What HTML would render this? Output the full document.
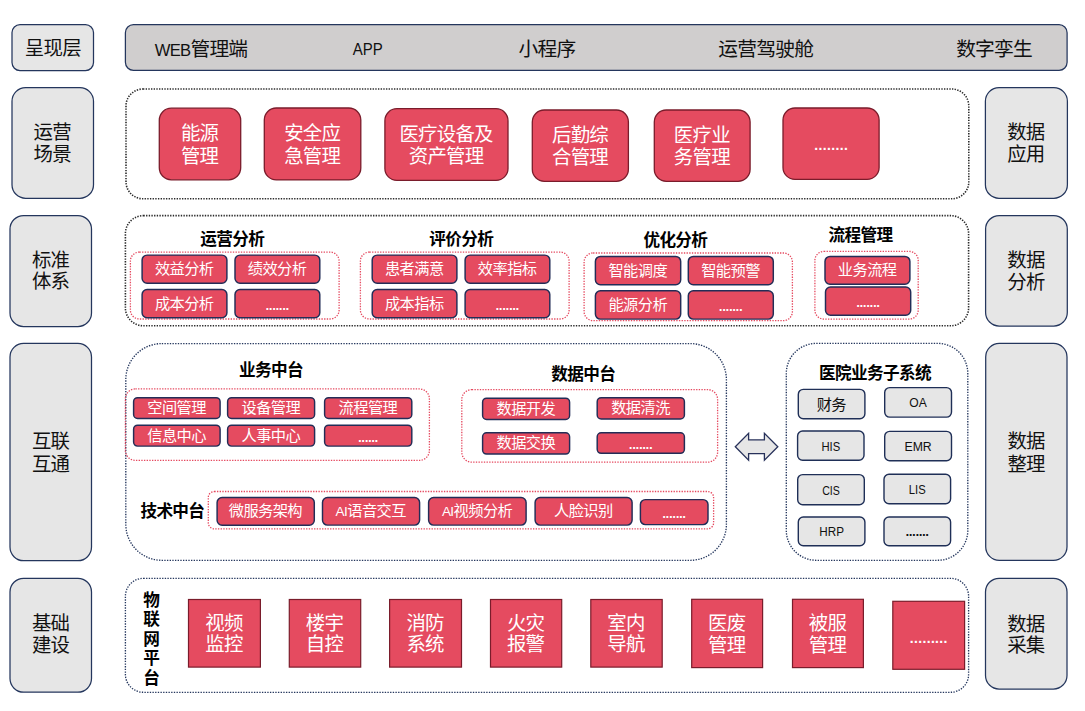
<!DOCTYPE html>
<html lang="zh-CN"><head><meta charset="utf-8"><title>架构图</title>
<style>
html,body{margin:0;padding:0;background:#fff;}
body{width:1085px;height:711px;overflow:hidden;}
svg{display:block;font-family:"Liberation Sans", "Noto Sans CJK SC", sans-serif;}
text{white-space:pre;}
</style></head><body>
<svg width="1085" height="711" viewBox="0 0 1085 711" style='font-family:"Liberation Sans", "Noto Sans CJK SC", sans-serif'>
<rect width="1085" height="711" fill="#fff"/>
<rect x="12.00" y="24.60" width="81.50" height="46.00" rx="8" ry="8" fill="#e6e6e6" stroke="#24365d" stroke-width="1.25"/>
<text x="52.83" y="54.98" font-size="19.42" fill="#111" font-weight="400" text-anchor="middle" letter-spacing="-0.75">呈现层</text>
<rect x="12.00" y="87.60" width="81.50" height="110.70" rx="13.6" ry="13.6" fill="#e6e6e6" stroke="#24365d" stroke-width="1.25"/>
<text x="52.23" y="138.88" font-size="19.42" fill="#111" font-weight="400" text-anchor="middle" letter-spacing="-0.75">运营</text>
<text x="52.23" y="161.38" font-size="19.42" fill="#111" font-weight="400" text-anchor="middle" letter-spacing="-0.75">场景</text>
<rect x="10.00" y="215.50" width="81.50" height="111.00" rx="13.6" ry="13.6" fill="#e6e6e6" stroke="#24365d" stroke-width="1.25"/>
<text x="50.62" y="266.78" font-size="19.42" fill="#111" font-weight="400" text-anchor="middle" letter-spacing="-0.75">标准</text>
<text x="50.62" y="288.38" font-size="19.42" fill="#111" font-weight="400" text-anchor="middle" letter-spacing="-0.75">体系</text>
<rect x="10.00" y="343.40" width="81.50" height="217.30" rx="13.6" ry="13.6" fill="#e6e6e6" stroke="#24365d" stroke-width="1.25"/>
<text x="50.62" y="447.88" font-size="19.42" fill="#111" font-weight="400" text-anchor="middle" letter-spacing="-0.75">互联</text>
<text x="50.62" y="470.58" font-size="19.42" fill="#111" font-weight="400" text-anchor="middle" letter-spacing="-0.75">互通</text>
<rect x="10.00" y="578.30" width="81.50" height="113.90" rx="13.6" ry="13.6" fill="#e6e6e6" stroke="#24365d" stroke-width="1.25"/>
<text x="50.62" y="629.98" font-size="19.42" fill="#111" font-weight="400" text-anchor="middle" letter-spacing="-0.75">基础</text>
<text x="50.62" y="652.38" font-size="19.42" fill="#111" font-weight="400" text-anchor="middle" letter-spacing="-0.75">建设</text>
<rect x="985.40" y="87.60" width="82.00" height="110.70" rx="13.6" ry="13.6" fill="#e6e6e6" stroke="#24365d" stroke-width="1.25"/>
<text x="1025.83" y="138.88" font-size="19.42" fill="#111" font-weight="400" text-anchor="middle" letter-spacing="-0.75">数据</text>
<text x="1025.83" y="161.38" font-size="19.42" fill="#111" font-weight="400" text-anchor="middle" letter-spacing="-0.75">应用</text>
<rect x="985.60" y="215.50" width="81.70" height="110.50" rx="13.6" ry="13.6" fill="#e6e6e6" stroke="#24365d" stroke-width="1.25"/>
<text x="1026.03" y="267.18" font-size="19.42" fill="#111" font-weight="400" text-anchor="middle" letter-spacing="-0.75">数据</text>
<text x="1026.03" y="289.18" font-size="19.42" fill="#111" font-weight="400" text-anchor="middle" letter-spacing="-0.75">分析</text>
<rect x="985.70" y="343.40" width="81.30" height="217.00" rx="13.6" ry="13.6" fill="#e6e6e6" stroke="#24365d" stroke-width="1.25"/>
<text x="1026.12" y="448.38" font-size="19.42" fill="#111" font-weight="400" text-anchor="middle" letter-spacing="-0.75">数据</text>
<text x="1026.12" y="470.58" font-size="19.42" fill="#111" font-weight="400" text-anchor="middle" letter-spacing="-0.75">整理</text>
<rect x="985.50" y="578.30" width="81.50" height="110.70" rx="13.6" ry="13.6" fill="#e6e6e6" stroke="#24365d" stroke-width="1.25"/>
<text x="1025.83" y="630.58" font-size="19.42" fill="#111" font-weight="400" text-anchor="middle" letter-spacing="-0.75">数据</text>
<text x="1025.83" y="651.98" font-size="19.42" fill="#111" font-weight="400" text-anchor="middle" letter-spacing="-0.75">采集</text>
<rect x="125.40" y="24.70" width="941.70" height="45.60" rx="8" ry="8" fill="#d0cece" stroke="#24365d" stroke-width="1.25"/>
<text x="201.12" y="56.11" font-size="19.76" fill="#111" font-weight="400" text-anchor="middle" letter-spacing="-0.76"><tspan font-size="16.6">WEB</tspan>管理端</text>
<text x="367.70" y="55.38" font-size="16.6" fill="#111" font-weight="400" text-anchor="middle" textLength="30.0" lengthAdjust="spacingAndGlyphs">APP</text>
<text x="547.02" y="56.11" font-size="19.76" fill="#111" font-weight="400" text-anchor="middle" letter-spacing="-0.76">小程序</text>
<text x="765.72" y="56.11" font-size="19.76" fill="#111" font-weight="400" text-anchor="middle" letter-spacing="-0.76">运营驾驶舱</text>
<text x="994.12" y="56.11" font-size="19.76" fill="#111" font-weight="400" text-anchor="middle" letter-spacing="-0.76">数字孪生</text>
<rect x="126.00" y="89.00" width="842.80" height="109.80" rx="17" ry="17" fill="none" stroke="#2a2a2a" stroke-width="1.6" stroke-dasharray="1.35 1.32"/>
<rect x="159.30" y="108.20" width="81.40" height="71.60" rx="12" ry="12" fill="#e54b60" stroke="#7a1c2b" stroke-width="1.3"/>
<text x="199.62" y="140.38" font-size="19.42" fill="#fff" font-weight="400" text-anchor="middle" letter-spacing="-0.75">能源</text>
<text x="199.62" y="162.58" font-size="19.42" fill="#fff" font-weight="400" text-anchor="middle" letter-spacing="-0.75">管理</text>
<rect x="264.30" y="108.00" width="96.50" height="71.90" rx="12" ry="12" fill="#e54b60" stroke="#7a1c2b" stroke-width="1.3"/>
<text x="312.18" y="140.33" font-size="19.42" fill="#fff" font-weight="400" text-anchor="middle" letter-spacing="-0.75">安全应</text>
<text x="312.18" y="162.53" font-size="19.42" fill="#fff" font-weight="400" text-anchor="middle" letter-spacing="-0.75">急管理</text>
<rect x="384.90" y="108.70" width="123.10" height="71.70" rx="12" ry="12" fill="#e54b60" stroke="#7a1c2b" stroke-width="1.3"/>
<text x="446.07" y="140.93" font-size="19.42" fill="#fff" font-weight="400" text-anchor="middle" letter-spacing="-0.75">医疗设备及</text>
<text x="446.07" y="163.13" font-size="19.42" fill="#fff" font-weight="400" text-anchor="middle" letter-spacing="-0.75">资产管理</text>
<rect x="532.30" y="110.00" width="96.10" height="71.30" rx="12" ry="12" fill="#e54b60" stroke="#7a1c2b" stroke-width="1.3"/>
<text x="579.97" y="142.03" font-size="19.42" fill="#fff" font-weight="400" text-anchor="middle" letter-spacing="-0.75">后勤综</text>
<text x="579.97" y="164.23" font-size="19.42" fill="#fff" font-weight="400" text-anchor="middle" letter-spacing="-0.75">合管理</text>
<rect x="654.30" y="110.00" width="95.80" height="71.30" rx="12" ry="12" fill="#e54b60" stroke="#7a1c2b" stroke-width="1.3"/>
<text x="701.83" y="142.03" font-size="19.42" fill="#fff" font-weight="400" text-anchor="middle" letter-spacing="-0.75">医疗业</text>
<text x="701.83" y="164.23" font-size="19.42" fill="#fff" font-weight="400" text-anchor="middle" letter-spacing="-0.75">务管理</text>
<rect x="783.00" y="108.00" width="96.10" height="71.40" rx="12" ry="12" fill="#e54b60" stroke="#7a1c2b" stroke-width="1.3"/>
<text x="831.05" y="149.98" font-size="21" fill="#fff" font-weight="400" text-anchor="middle" textLength="35.5" lengthAdjust="spacing">........</text>
<rect x="125.40" y="215.60" width="843.20" height="110.20" rx="18" ry="18" fill="none" stroke="#2a2a2a" stroke-width="1.6" stroke-dasharray="1.35 1.32"/>
<text x="232.18" y="245.12" font-size="16.64" fill="#000" font-weight="700" text-anchor="middle" letter-spacing="-0.64">运营分析</text>
<text x="461.28" y="245.12" font-size="16.64" fill="#000" font-weight="700" text-anchor="middle" letter-spacing="-0.64">评价分析</text>
<text x="675.38" y="245.62" font-size="16.64" fill="#000" font-weight="700" text-anchor="middle" letter-spacing="-0.64">优化分析</text>
<text x="860.58" y="241.42" font-size="16.64" fill="#000" font-weight="700" text-anchor="middle" letter-spacing="-0.64">流程管理</text>
<rect x="130.40" y="252.10" width="208.70" height="66.90" rx="9" ry="9" fill="none" stroke="#e5495f" stroke-width="1.3" stroke-dasharray="1.35 1.32"/>
<rect x="360.40" y="252.10" width="208.70" height="66.90" rx="9" ry="9" fill="none" stroke="#e5495f" stroke-width="1.3" stroke-dasharray="1.35 1.32"/>
<rect x="584.10" y="253.00" width="208.30" height="67.60" rx="9" ry="9" fill="none" stroke="#e5495f" stroke-width="1.3" stroke-dasharray="1.35 1.32"/>
<rect x="814.90" y="251.40" width="103.30" height="67.70" rx="9" ry="9" fill="none" stroke="#e5495f" stroke-width="1.3" stroke-dasharray="1.35 1.32"/>
<rect x="142.10" y="255.10" width="84.80" height="28.10" rx="5" ry="5" fill="#e54b60" stroke="#232d57" stroke-width="1.45"/>
<text x="184.21" y="274.15" font-size="15.26" fill="#fff" font-weight="400" text-anchor="middle" letter-spacing="-0.59">效益分析</text>
<rect x="235.00" y="255.10" width="84.80" height="28.10" rx="5" ry="5" fill="#e54b60" stroke="#232d57" stroke-width="1.45"/>
<text x="277.10" y="274.15" font-size="15.26" fill="#fff" font-weight="400" text-anchor="middle" letter-spacing="-0.59">绩效分析</text>
<rect x="142.10" y="289.50" width="84.80" height="28.20" rx="5" ry="5" fill="#e54b60" stroke="#232d57" stroke-width="1.45"/>
<text x="184.21" y="308.60" font-size="15.26" fill="#fff" font-weight="400" text-anchor="middle" letter-spacing="-0.59">成本分析</text>
<rect x="235.00" y="289.50" width="84.80" height="28.30" rx="5" ry="5" fill="#e54b60" stroke="#232d57" stroke-width="1.45"/>
<text x="277.40" y="309.95" font-size="19" fill="#fff" font-weight="400" text-anchor="middle" textLength="25.4" lengthAdjust="spacing">.......</text>
<rect x="372.20" y="255.10" width="84.70" height="28.10" rx="5" ry="5" fill="#e54b60" stroke="#232d57" stroke-width="1.45"/>
<text x="414.25" y="274.15" font-size="15.26" fill="#fff" font-weight="400" text-anchor="middle" letter-spacing="-0.59">患者满意</text>
<rect x="465.10" y="255.10" width="84.70" height="28.10" rx="5" ry="5" fill="#e54b60" stroke="#232d57" stroke-width="1.45"/>
<text x="507.15" y="274.15" font-size="15.26" fill="#fff" font-weight="400" text-anchor="middle" letter-spacing="-0.59">效率指标</text>
<rect x="372.20" y="289.50" width="84.70" height="28.30" rx="5" ry="5" fill="#e54b60" stroke="#232d57" stroke-width="1.45"/>
<text x="414.25" y="308.65" font-size="15.26" fill="#fff" font-weight="400" text-anchor="middle" letter-spacing="-0.59">成本指标</text>
<rect x="465.10" y="289.50" width="84.70" height="28.30" rx="5" ry="5" fill="#e54b60" stroke="#232d57" stroke-width="1.45"/>
<text x="507.45" y="309.95" font-size="19" fill="#fff" font-weight="400" text-anchor="middle" textLength="25.4" lengthAdjust="spacing">.......</text>
<rect x="595.40" y="256.40" width="85.30" height="28.30" rx="5" ry="5" fill="#e54b60" stroke="#232d57" stroke-width="1.45"/>
<text x="637.75" y="275.55" font-size="15.26" fill="#fff" font-weight="400" text-anchor="middle" letter-spacing="-0.59">智能调度</text>
<rect x="688.30" y="256.40" width="85.00" height="28.30" rx="5" ry="5" fill="#e54b60" stroke="#232d57" stroke-width="1.45"/>
<text x="730.50" y="275.55" font-size="15.26" fill="#fff" font-weight="400" text-anchor="middle" letter-spacing="-0.59">智能预警</text>
<rect x="595.40" y="290.70" width="85.30" height="28.40" rx="5" ry="5" fill="#e54b60" stroke="#232d57" stroke-width="1.45"/>
<text x="637.75" y="309.90" font-size="15.26" fill="#fff" font-weight="400" text-anchor="middle" letter-spacing="-0.59">能源分析</text>
<rect x="688.30" y="290.70" width="85.00" height="28.40" rx="5" ry="5" fill="#e54b60" stroke="#232d57" stroke-width="1.45"/>
<text x="730.80" y="311.20" font-size="19" fill="#fff" font-weight="400" text-anchor="middle" textLength="25.4" lengthAdjust="spacing">.......</text>
<rect x="825.00" y="256.40" width="84.90" height="27.80" rx="5" ry="5" fill="#e54b60" stroke="#232d57" stroke-width="1.45"/>
<text x="867.16" y="275.30" font-size="15.26" fill="#fff" font-weight="400" text-anchor="middle" letter-spacing="-0.59">业务流程</text>
<rect x="825.50" y="287.00" width="85.20" height="28.30" rx="5" ry="5" fill="#e54b60" stroke="#232d57" stroke-width="1.45"/>
<text x="868.10" y="307.45" font-size="19" fill="#fff" font-weight="400" text-anchor="middle" textLength="25.4" lengthAdjust="spacing">.......</text>
<rect x="125.80" y="343.60" width="600.60" height="216.70" rx="36" ry="36" fill="none" stroke="#24365d" stroke-width="1.35" stroke-dasharray="1.35 1.32"/>
<text x="271.08" y="375.92" font-size="16.64" fill="#000" font-weight="700" text-anchor="middle" letter-spacing="-0.64">业务中台</text>
<text x="583.28" y="379.72" font-size="16.64" fill="#000" font-weight="700" text-anchor="middle" letter-spacing="-0.64">数据中台</text>
<rect x="125.40" y="388.90" width="304.00" height="71.50" rx="10" ry="10" fill="none" stroke="#e5495f" stroke-width="1.3" stroke-dasharray="1.35 1.32"/>
<rect x="461.80" y="389.60" width="255.80" height="72.60" rx="10" ry="10" fill="none" stroke="#e5495f" stroke-width="1.3" stroke-dasharray="1.35 1.32"/>
<rect x="133.60" y="397.70" width="86.50" height="20.80" rx="4" ry="4" fill="#e54b60" stroke="#232d57" stroke-width="1.45"/>
<text x="176.56" y="413.10" font-size="15.26" fill="#fff" font-weight="400" text-anchor="middle" letter-spacing="-0.59">空间管理</text>
<rect x="227.60" y="397.70" width="87.00" height="20.80" rx="4" ry="4" fill="#e54b60" stroke="#232d57" stroke-width="1.45"/>
<text x="270.81" y="413.10" font-size="15.26" fill="#fff" font-weight="400" text-anchor="middle" letter-spacing="-0.59">设备管理</text>
<rect x="324.60" y="397.70" width="87.20" height="20.80" rx="4" ry="4" fill="#e54b60" stroke="#232d57" stroke-width="1.45"/>
<text x="367.91" y="413.10" font-size="15.26" fill="#fff" font-weight="400" text-anchor="middle" letter-spacing="-0.59">流程管理</text>
<rect x="133.60" y="425.20" width="86.50" height="20.90" rx="4" ry="4" fill="#e54b60" stroke="#232d57" stroke-width="1.45"/>
<text x="176.56" y="440.65" font-size="15.26" fill="#fff" font-weight="400" text-anchor="middle" letter-spacing="-0.59">信息中心</text>
<rect x="227.60" y="425.20" width="87.00" height="20.90" rx="4" ry="4" fill="#e54b60" stroke="#232d57" stroke-width="1.45"/>
<text x="270.81" y="440.65" font-size="15.26" fill="#fff" font-weight="400" text-anchor="middle" letter-spacing="-0.59">人事中心</text>
<rect x="324.60" y="425.20" width="87.20" height="20.90" rx="4" ry="4" fill="#e54b60" stroke="#232d57" stroke-width="1.45"/>
<text x="368.20" y="441.95" font-size="19" fill="#fff" font-weight="400" text-anchor="middle" textLength="21.9" lengthAdjust="spacing">......</text>
<rect x="482.60" y="398.20" width="87.00" height="21.30" rx="4" ry="4" fill="#e54b60" stroke="#232d57" stroke-width="1.45"/>
<text x="525.81" y="413.85" font-size="15.26" fill="#fff" font-weight="400" text-anchor="middle" letter-spacing="-0.59">数据开发</text>
<rect x="597.20" y="397.70" width="87.20" height="21.30" rx="4" ry="4" fill="#e54b60" stroke="#232d57" stroke-width="1.45"/>
<text x="640.50" y="413.35" font-size="15.26" fill="#fff" font-weight="400" text-anchor="middle" letter-spacing="-0.59">数据清洗</text>
<rect x="482.60" y="432.80" width="87.00" height="21.30" rx="4" ry="4" fill="#e54b60" stroke="#232d57" stroke-width="1.45"/>
<text x="525.81" y="448.45" font-size="15.26" fill="#fff" font-weight="400" text-anchor="middle" letter-spacing="-0.59">数据交换</text>
<rect x="597.20" y="432.80" width="87.20" height="20.50" rx="4" ry="4" fill="#e54b60" stroke="#232d57" stroke-width="1.45"/>
<text x="640.80" y="449.35" font-size="19" fill="#fff" font-weight="400" text-anchor="middle" textLength="25.4" lengthAdjust="spacing">.......</text>
<text x="172.38" y="517.02" font-size="16.64" fill="#000" font-weight="700" text-anchor="middle" letter-spacing="-0.64">技术中台</text>
<rect x="208.30" y="491.50" width="505.30" height="37.30" rx="6" ry="6" fill="none" stroke="#e5495f" stroke-width="1.3" stroke-dasharray="1.35 1.32"/>
<rect x="217.10" y="497.50" width="97.20" height="27.70" rx="5" ry="5" fill="#e54b60" stroke="#232d57" stroke-width="1.45"/>
<text x="265.40" y="516.35" font-size="15.26" fill="#fff" font-weight="400" text-anchor="middle" letter-spacing="-0.59">微服务架构</text>
<rect x="322.50" y="497.50" width="97.10" height="27.60" rx="5" ry="5" fill="#e54b60" stroke="#232d57" stroke-width="1.45"/>
<text x="370.75" y="516.30" font-size="15.26" fill="#fff" font-weight="400" text-anchor="middle" letter-spacing="-0.59"><tspan font-size="13.6">AI</tspan>语音交互</text>
<rect x="428.60" y="497.50" width="97.50" height="27.60" rx="5" ry="5" fill="#e54b60" stroke="#232d57" stroke-width="1.45"/>
<text x="477.06" y="516.30" font-size="15.26" fill="#fff" font-weight="400" text-anchor="middle" letter-spacing="-0.59"><tspan font-size="13.6">AI</tspan>视频分析</text>
<rect x="535.10" y="497.50" width="97.00" height="27.60" rx="5" ry="5" fill="#e54b60" stroke="#232d57" stroke-width="1.45"/>
<text x="583.31" y="516.30" font-size="15.26" fill="#fff" font-weight="400" text-anchor="middle" letter-spacing="-0.59">人脸识别</text>
<rect x="640.40" y="499.60" width="67.60" height="25.00" rx="5" ry="5" fill="#e54b60" stroke="#232d57" stroke-width="1.45"/>
<text x="674.20" y="518.40" font-size="19" fill="#fff" font-weight="400" text-anchor="middle" textLength="25.4" lengthAdjust="spacing">.......</text>
<path d="M735.3 446.7 L748.6 433.4 L748.6 439.9 L764.4 439.9 L764.4 433.4 L777.8 446.7 L764.4 460.2 L764.4 453.6 L748.6 453.6 L748.6 460.2 Z" fill="#e6e6e6" stroke="#27315a" stroke-width="1.3" stroke-linejoin="miter"/>
<rect x="786.30" y="343.40" width="181.50" height="216.90" rx="30" ry="30" fill="none" stroke="#24365d" stroke-width="1.35" stroke-dasharray="1.35 1.32"/>
<text x="874.98" y="379.32" font-size="16.64" fill="#000" font-weight="700" text-anchor="middle" letter-spacing="-0.64">医院业务子系统</text>
<rect x="798.30" y="389.40" width="66.60" height="29.30" rx="5" ry="5" fill="#e6e6e6" stroke="#1f2f57" stroke-width="1.4"/>
<text x="831.30" y="409.85" font-size="15.26" fill="#111" font-weight="400" text-anchor="middle" letter-spacing="-0.59">财务</text>
<rect x="884.70" y="387.60" width="66.80" height="29.50" rx="5" ry="5" fill="#e6e6e6" stroke="#1f2f57" stroke-width="1.4"/>
<text x="918.10" y="407.47" font-size="13.4" fill="#111" font-weight="400" text-anchor="middle" textLength="17.5" lengthAdjust="spacingAndGlyphs">OA</text>
<rect x="797.60" y="431.00" width="66.40" height="29.20" rx="5" ry="5" fill="#e6e6e6" stroke="#1f2f57" stroke-width="1.4"/>
<text x="830.80" y="450.72" font-size="13.4" fill="#111" font-weight="400" text-anchor="middle" textLength="18.8" lengthAdjust="spacingAndGlyphs">HIS</text>
<rect x="884.70" y="431.40" width="66.80" height="29.30" rx="5" ry="5" fill="#e6e6e6" stroke="#1f2f57" stroke-width="1.4"/>
<text x="918.10" y="451.17" font-size="13.4" fill="#111" font-weight="400" text-anchor="middle" textLength="27.3" lengthAdjust="spacingAndGlyphs">EMR</text>
<rect x="797.70" y="474.60" width="66.60" height="30.10" rx="5" ry="5" fill="#e6e6e6" stroke="#1f2f57" stroke-width="1.4"/>
<text x="831.00" y="494.77" font-size="13.4" fill="#111" font-weight="400" text-anchor="middle" textLength="17.7" lengthAdjust="spacingAndGlyphs">CIS</text>
<rect x="884.00" y="474.30" width="66.60" height="29.50" rx="5" ry="5" fill="#e6e6e6" stroke="#1f2f57" stroke-width="1.4"/>
<text x="917.30" y="494.17" font-size="13.4" fill="#111" font-weight="400" text-anchor="middle" textLength="16.9" lengthAdjust="spacingAndGlyphs">LIS</text>
<rect x="798.30" y="517.00" width="66.60" height="28.80" rx="5" ry="5" fill="#e6e6e6" stroke="#1f2f57" stroke-width="1.4"/>
<text x="831.60" y="535.52" font-size="13.4" fill="#111" font-weight="400" text-anchor="middle" textLength="24.7" lengthAdjust="spacingAndGlyphs">HRP</text>
<rect x="884.00" y="517.00" width="66.60" height="28.80" rx="5" ry="5" fill="#e6e6e6" stroke="#1f2f57" stroke-width="1.4"/>
<text x="917.30" y="535.70" font-size="19" fill="#111" font-weight="400" text-anchor="middle" textLength="25.2" lengthAdjust="spacing">.......</text>
<rect x="125.40" y="578.30" width="843.20" height="114.00" rx="18" ry="18" fill="none" stroke="#24365d" stroke-width="1.35" stroke-dasharray="1.35 1.32"/>
<text x="151.28" y="605.92" font-size="16.64" fill="#000" font-weight="700" text-anchor="middle" letter-spacing="-0.64">物</text>
<text x="151.28" y="625.22" font-size="16.64" fill="#000" font-weight="700" text-anchor="middle" letter-spacing="-0.64">联</text>
<text x="151.28" y="644.52" font-size="16.64" fill="#000" font-weight="700" text-anchor="middle" letter-spacing="-0.64">网</text>
<text x="151.28" y="664.02" font-size="16.64" fill="#000" font-weight="700" text-anchor="middle" letter-spacing="-0.64">平</text>
<text x="151.28" y="684.12" font-size="16.64" fill="#000" font-weight="700" text-anchor="middle" letter-spacing="-0.64">台</text>
<rect x="188.50" y="599.50" width="71.90" height="67.60" rx="0" ry="0" fill="#e54b60" stroke="#7a1c2b" stroke-width="1.2"/>
<text x="223.97" y="629.98" font-size="19.42" fill="#fff" font-weight="400" text-anchor="middle" letter-spacing="-0.75">视频</text>
<text x="223.97" y="651.38" font-size="19.42" fill="#fff" font-weight="400" text-anchor="middle" letter-spacing="-0.75">监控</text>
<rect x="289.30" y="599.50" width="71.40" height="67.60" rx="0" ry="0" fill="#e54b60" stroke="#7a1c2b" stroke-width="1.2"/>
<text x="324.52" y="629.98" font-size="19.42" fill="#fff" font-weight="400" text-anchor="middle" letter-spacing="-0.75">楼宇</text>
<text x="324.52" y="651.38" font-size="19.42" fill="#fff" font-weight="400" text-anchor="middle" letter-spacing="-0.75">自控</text>
<rect x="389.60" y="599.50" width="71.90" height="67.60" rx="0" ry="0" fill="#e54b60" stroke="#7a1c2b" stroke-width="1.2"/>
<text x="425.08" y="629.98" font-size="19.42" fill="#fff" font-weight="400" text-anchor="middle" letter-spacing="-0.75">消防</text>
<text x="425.08" y="651.38" font-size="19.42" fill="#fff" font-weight="400" text-anchor="middle" letter-spacing="-0.75">系统</text>
<rect x="490.50" y="599.50" width="71.20" height="67.60" rx="0" ry="0" fill="#e54b60" stroke="#7a1c2b" stroke-width="1.2"/>
<text x="525.62" y="629.98" font-size="19.42" fill="#fff" font-weight="400" text-anchor="middle" letter-spacing="-0.75">火灾</text>
<text x="525.62" y="651.38" font-size="19.42" fill="#fff" font-weight="400" text-anchor="middle" letter-spacing="-0.75">报警</text>
<rect x="590.80" y="599.50" width="71.40" height="67.60" rx="0" ry="0" fill="#e54b60" stroke="#7a1c2b" stroke-width="1.2"/>
<text x="626.02" y="629.98" font-size="19.42" fill="#fff" font-weight="400" text-anchor="middle" letter-spacing="-0.75">室内</text>
<text x="626.02" y="651.38" font-size="19.42" fill="#fff" font-weight="400" text-anchor="middle" letter-spacing="-0.75">导航</text>
<rect x="691.70" y="599.30" width="70.90" height="68.30" rx="0" ry="0" fill="#e54b60" stroke="#7a1c2b" stroke-width="1.2"/>
<text x="726.67" y="630.13" font-size="19.42" fill="#fff" font-weight="400" text-anchor="middle" letter-spacing="-0.75">医废</text>
<text x="726.67" y="651.53" font-size="19.42" fill="#fff" font-weight="400" text-anchor="middle" letter-spacing="-0.75">管理</text>
<rect x="792.50" y="599.30" width="70.90" height="68.30" rx="0" ry="0" fill="#e54b60" stroke="#7a1c2b" stroke-width="1.2"/>
<text x="827.48" y="630.13" font-size="19.42" fill="#fff" font-weight="400" text-anchor="middle" letter-spacing="-0.75">被服</text>
<text x="827.48" y="651.53" font-size="19.42" fill="#fff" font-weight="400" text-anchor="middle" letter-spacing="-0.75">管理</text>
<rect x="892.80" y="601.30" width="71.80" height="68.00" rx="0" ry="0" fill="#e54b60" stroke="#7a1c2b" stroke-width="1.2"/>
<text x="928.60" y="642.50" font-size="21" fill="#fff" font-weight="400" text-anchor="middle" textLength="39.5" lengthAdjust="spacing">.........</text>
</svg>
</body></html>
